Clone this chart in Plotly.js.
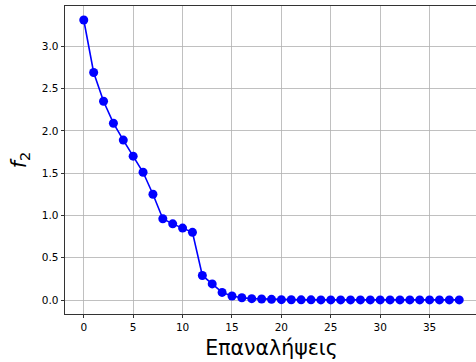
<!DOCTYPE html>
<html>
<head>
<meta charset="utf-8">
<script src="https://cdn.plot.ly/plotly-3.0.1.min.js"></script>
<style>
html,body{margin:0;padding:0;overflow:hidden;background:#fff;}
#chart{width:480px;height:362px;}
</style>
</head>
<body>
<div id="chart"></div>
<script>
const iterations = [0,1,2,3,4,5,6,7,8,9,10,11,12,13,14,15,16,17,18,19,20,21,22,23,24,25,26,27,28,29,30,31,32,33,34,35,36,37,38];
const f2Values = [3.31,2.69,2.35,2.09,1.89,1.70,1.51,1.25,0.96,0.90,0.85,0.80,0.29,0.19,0.09,0.047,0.027,0.016,0.012,0.008,0.004,0.003,0.002,0.002,0.001,0.001,0.001,0.001,0.001,0.001,0.001,0.001,0.001,0.001,0.001,0.001,0.001,0.001,0.001];
const xTicks = [0,5,10,15,20,25,30,35];
const yTicks = [0.0,0.5,1.0,1.5,2.0,2.5,3.0];
const yTickLabels = ['0.0','0.5','1.0','1.5','2.0','2.5','3.0'];
const xLabel = 'Επαναλήψεις';
const yLabel = '<i>f</i><sub>2</sub>';

const trace = {
  x: iterations, y: f2Values, type: 'scatter', mode: 'lines+markers',
  line: {color: '#0000ff', width: 1.6},
  marker: {color: '#0000ff', size: 9},
  hoverinfo: 'none'
};
const axisCommon = {
  showline: true, mirror: true, linecolor: '#000', linewidth: 0.8,
  showgrid: true, gridcolor: '#b0b0b0', gridwidth: 0.8,
  zeroline: false, ticks: 'outside', ticklen: 3.6, tickwidth: 0.8, tickcolor: '#000',
  tickfont: {family: 'DejaVu Sans', size: 10.5, color: '#000'}
};
const layout = {
  width: 480, height: 362,
  margin: {l: 65, r: 2, t: 6, b: 48},
  paper_bgcolor: '#fff', plot_bgcolor: '#fff',
  showlegend: false,
  xaxis: Object.assign({}, axisCommon, {
    range: [-1.9, 39.9], tickvals: xTicks,
    title: {text: xLabel, font: {family: 'DejaVu Sans', size: 20.5, color: '#000'}, standoff: 8}
  }),
  yaxis: Object.assign({}, axisCommon, {
    range: [-0.1655, 3.4755], tickvals: yTicks, ticktext: yTickLabels,
    title: {text: yLabel, font: {family: 'DejaVu Sans', size: 20.5, color: '#000'}, standoff: 9}
  })
};
Plotly.newPlot('chart', [trace], layout, {staticPlot: true, displayModeBar: false});
</script>
</body>
</html>
